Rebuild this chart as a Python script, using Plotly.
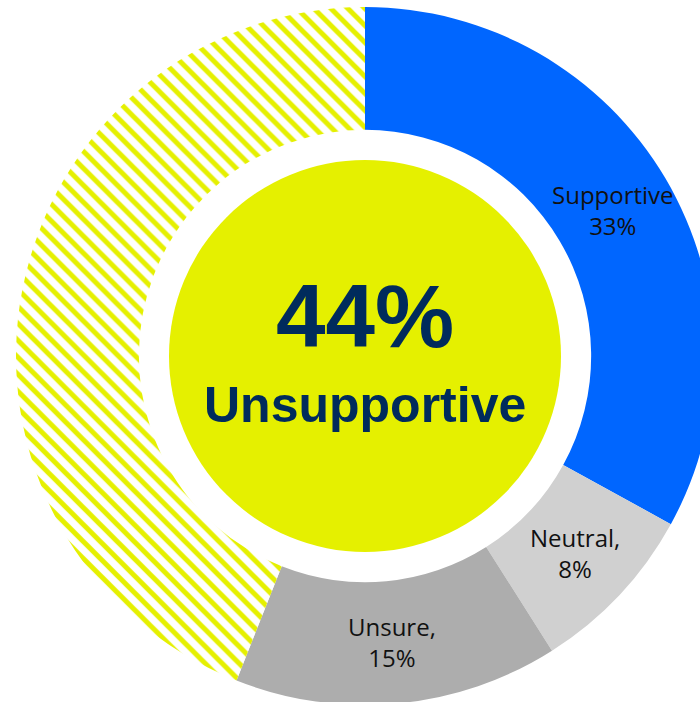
import math
import plotly.graph_objects as go

# Survey response shares (percent), clockwise from 12 o'clock
categories = ["Supportive", "Neutral", "Unsure", "Unsupportive"]
shares = [33, 8, 15, 44]
slice_labels = ["Supportive<br>33%", "Neutral,<br>8%", "Unsure,<br>15%", ""]

headline_value = "44%"
headline_label = "Unsupportive"

BLUE = "#0066FF"
LIGHT_GREY = "#D0D0D0"
MID_GREY = "#ADADAD"
LIME = "#E5F000"
NAVY = "#002B5C"

HOLE = 0.648

fig = go.Figure(
    go.Pie(
        labels=categories,
        values=shares,
        textinfo="none",
        sort=False,
        direction="clockwise",
        rotation=0,
        hole=HOLE,
        marker=dict(
            colors=[BLUE, LIGHT_GREY, MID_GREY, "white"],
            line=dict(width=0),
            pattern=dict(
                shape=["", "", "", "\\"],
                fgcolor=LIME,
                bgcolor="white",
                size=12,
                solidity=0.42,
                fillmode="replace",
            ),
        ),
        showlegend=False,
        hoverinfo="label+percent",
    )
)

# Slice labels placed at the middle of each ring segment (pie spans the full paper square)
total = sum(shares)
ring_mid = 0.5 * (1 + HOLE) / 2
cum = 0
for share, label in zip(shares, slice_labels):
    mid = (cum + share / 2) / total * 2 * math.pi
    cum += share
    if not label:
        continue
    fig.add_annotation(
        text=label, xref="paper", yref="paper",
        x=0.5 + ring_mid * math.sin(mid), y=0.5 + ring_mid * math.cos(mid),
        showarrow=False, xanchor="center", yanchor="middle",
        font=dict(family="Open Sans, Liberation Sans, Arial", size=24, color="#111111"),
    )

# Solid disc inside the hole
r = 196 / 698
fig.add_shape(
    type="circle", xref="paper", yref="paper",
    x0=0.5 - r, x1=0.5 + r, y0=0.5 - r, y1=0.5 + r,
    fillcolor=LIME, line=dict(width=0), layer="above",
)

fig.add_annotation(
    text=f"<b>{headline_value}</b>", x=0.5, y=(705 - 316) / 698,
    xref="paper", yref="paper", showarrow=False, yanchor="middle",
    font=dict(family="Liberation Sans, Arial", size=89, color=NAVY),
)
fig.add_annotation(
    text=f"<b>{headline_label}</b>", x=0.5, y=(705 - 405) / 698,
    xref="paper", yref="paper", showarrow=False, yanchor="middle",
    font=dict(family="Liberation Sans, Arial", size=50, color=NAVY),
)

fig.update_layout(
    width=730,
    height=712,
    margin=dict(l=16, r=16, t=7, b=7),
    paper_bgcolor="white",
    plot_bgcolor="white",
)

fig.write_html(
    "out.html",
    config={"displayModeBar": False},
    post_script=(
        "document.documentElement.style.overflow='hidden';"
        "document.body.style.overflow='hidden';"
        "document.body.style.margin='0';"
    ),
)
